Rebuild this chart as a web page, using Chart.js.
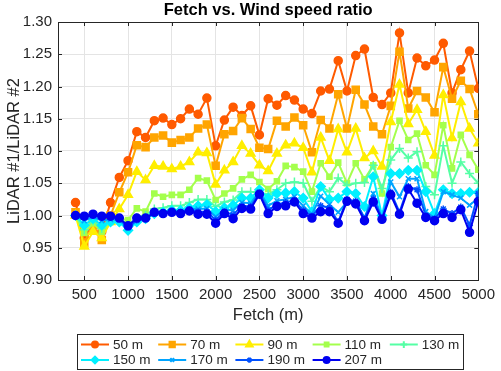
<!DOCTYPE html>
<html>
<head>
<meta charset="utf-8">
<script src="https://cdn.jsdelivr.net/npm/chart.js@4.4.1/dist/chart.umd.min.js"></script>
<style>
  html, body { margin: 0; padding: 0; background: #fff; }
</style>
</head>
<body>
<canvas id="fetchChart" width="501" height="371"></canvas>
<script>
// fetch distance of each measurement (m)
const fetchDist = [400, 500, 600, 700, 800, 900, 1000, 1100, 1200, 1300, 1400, 1500,
  1600, 1700, 1800, 1900, 2000, 2100, 2200, 2300, 2400, 2500, 2600, 2700, 2800, 2900,
  3000, 3100, 3200, 3300, 3400, 3500, 3600, 3700, 3800, 3900, 4000, 4100, 4200, 4300,
  4400, 4500, 4600, 4700, 4800, 4900, 5000];

const heights = ['50 m', '70 m', '90 m', '110 m', '130 m', '150 m', '170 m', '190 m', '207 m'];

// LiDAR #1 / LiDAR #2 wind speed ratio at each height
const ratio50 = [1.020, 0.965, 0.990, 0.975, 1.020, 1.059, 1.085, 1.130, 1.121, 1.147, 1.151, 1.141,
  1.150, 1.165, 1.157, 1.182, 1.108, 1.148, 1.168, 1.155, 1.170, 1.125, 1.181, 1.171, 1.186, 1.179,
  1.165, 1.158, 1.193, 1.196, 1.240, 1.193, 1.248, 1.258, 1.183, 1.172, 1.190, 1.283, 1.190, 1.244,
  1.232, 1.241, 1.267, 1.190, 1.226, 1.255, 1.197];
const ratio70 = [1.005, 0.958, 0.985, 0.962, 1.000, 1.036, 1.067, 1.109, 1.106, 1.121, 1.124, 1.113,
  1.117, 1.121, 1.135, 1.141, 1.077, 1.126, 1.131, 1.151, 1.134, 1.105, 1.103, 1.147, 1.138, 1.152,
  1.140, 1.098, 1.148, 1.135, 1.188, 1.135, 1.195, 1.172, 1.138, 1.126, 1.170, 1.254, 1.166, 1.193,
  1.183, 1.160, 1.230, 1.181, 1.209, 1.196, 1.157];
const ratio90 = [1.000, 0.952, 0.975, 0.965, 0.990, 1.010, 1.032, 1.068, 1.055, 1.077, 1.076, 1.072,
  1.076, 1.083, 1.098, 1.097, 1.048, 1.070, 1.083, 1.108, 1.096, 1.078, 1.069, 1.096, 1.109, 1.112,
  1.105, 1.067, 1.121, 1.085, 1.134, 1.098, 1.135, 1.089, 1.100, 1.076, 1.145, 1.203, 1.142, 1.164,
  1.130, 1.093, 1.187, 1.120, 1.176, 1.135, 1.112];
const ratio110 = [1.000, 0.973, 0.988, 0.975, 0.990, 0.995, 0.993, 1.011, 1.006, 1.034, 1.029, 1.032,
  1.032, 1.040, 1.058, 1.054, 1.024, 1.034, 1.042, 1.056, 1.063, 1.052, 1.041, 1.053, 1.077, 1.075,
  1.068, 1.037, 1.081, 1.060, 1.082, 1.050, 1.081, 1.056, 1.078, 1.034, 1.106, 1.147, 1.117, 1.127,
  1.078, 1.063, 1.140, 1.073, 1.125, 1.094, 1.071];
const ratio130 = [1.000, 0.978, 0.992, 0.980, 0.992, 0.992, 0.985, 0.997, 1.000, 1.010, 1.012, 1.015,
  1.015, 1.020, 1.025, 1.025, 1.014, 1.021, 1.024, 1.037, 1.037, 1.035, 1.033, 1.040, 1.050, 1.052,
  1.050, 1.022, 1.045, 1.037, 1.058, 1.047, 1.050, 1.051, 1.078, 1.042, 1.086, 1.104, 1.089, 1.099,
  1.045, 1.032, 1.108, 1.050, 1.083, 1.065, 1.050];
const ratio150 = [1.000, 0.985, 0.995, 0.985, 0.990, 0.990, 0.977, 0.990, 0.995, 1.003, 1.005, 1.008,
  1.008, 1.012, 1.015, 1.017, 1.006, 1.012, 1.016, 1.027, 1.027, 1.040, 1.027, 1.034, 1.035, 1.037,
  1.027, 1.006, 1.045, 1.025, 1.027, 1.037, 1.034, 1.014, 1.060, 1.000, 1.065, 1.065, 1.070, 1.070,
  1.037, 1.003, 1.040, 1.034, 1.034, 1.036, 1.036];
const ratio170 = [1.000, 0.992, 0.998, 0.992, 0.994, 0.993, 0.980, 0.992, 0.995, 1.003, 1.004, 1.007,
  1.006, 1.010, 1.010, 1.011, 0.998, 1.009, 1.008, 1.020, 1.019, 1.037, 1.015, 1.023, 1.025, 1.029,
  1.015, 1.002, 1.030, 1.017, 1.005, 1.021, 1.022, 0.996, 1.034, 0.996, 1.052, 1.029, 1.057, 1.057,
  1.006, 0.996, 1.037, 1.032, 1.027, 1.016, 1.027];
const ratio190 = [1.000, 0.998, 1.000, 0.998, 0.997, 0.995, 0.982, 0.993, 0.995, 1.004, 1.004, 1.006,
  1.005, 1.009, 1.006, 1.006, 0.993, 1.006, 1.001, 1.015, 1.014, 1.035, 1.008, 1.017, 1.020, 1.024,
  1.008, 0.999, 1.015, 1.012, 0.990, 1.025, 1.022, 0.995, 1.026, 0.995, 1.036, 1.005, 1.045, 1.040,
  1.000, 0.995, 1.010, 1.003, 1.013, 0.985, 1.034];
const ratio207 = [1.000, 0.999, 1.002, 0.999, 0.999, 0.996, 0.984, 0.996, 0.996, 1.005, 1.003, 1.005,
  1.003, 1.007, 1.002, 1.002, 0.988, 1.003, 0.995, 1.011, 1.010, 1.033, 1.003, 1.014, 1.015, 1.021,
  1.003, 0.996, 1.006, 1.006, 0.988, 1.022, 1.018, 0.992, 1.021, 0.994, 1.032, 1.002, 1.041, 1.019,
  0.997, 0.992, 1.003, 0.997, 1.009, 0.974, 1.022];

const xTicks = [500, 1000, 1500, 2000, 2500, 3000, 3500, 4000, 4500, 5000];
const yTicks = [0.90, 0.95, 1.00, 1.05, 1.10, 1.15, 1.20, 1.25, 1.30];

const series = [ratio50, ratio70, ratio90, ratio110, ratio130, ratio150, ratio170, ratio190, ratio207];
const colors = ['#ff5a00', '#ffa500', '#ffee00', '#a4ff4c', '#55ffa5', '#00f0ff', '#00a4ff', '#0050ff', '#0000f0'];
const markers = ['circle', 'rect', 'triangle', 'rect', 'cross', 'rectRot', 'crossRot', 'star', 'circle'];
const markerSize = [4, 5, 5, 3.6, 4.5, 4.5, 3.5, 3.5, 4];

const FONT = '"Liberation Sans", Arial, Helvetica, sans-serif';
const INK = '#262626';

// title, axis titles, box and legend drawn like the MATLAB figure
const frame = {
  id: 'frame',
  beforeDatasetsDraw(chart) {
    const ctx = chart.ctx;
    const a = chart.chartArea;
    const xs = chart.scales.x, ys = chart.scales.y;
    ctx.save();
    ctx.strokeStyle = INK;
    ctx.lineWidth = 1;
    ctx.beginPath();
    xTicks.forEach(v => {
      const px = Math.round(xs.getPixelForValue(v)) + 0.5;
      ctx.moveTo(px, a.bottom); ctx.lineTo(px, a.bottom - 4);
      ctx.moveTo(px, a.top); ctx.lineTo(px, a.top + 4);
    });
    yTicks.forEach(v => {
      const py = Math.round(ys.getPixelForValue(v)) + 0.5;
      ctx.moveTo(a.left, py); ctx.lineTo(a.left + 4, py);
      ctx.moveTo(a.right, py); ctx.lineTo(a.right - 4, py);
    });
    ctx.stroke();
    ctx.strokeRect(Math.round(a.left) + 0.5, Math.round(a.top) + 0.5,
      Math.round(a.right - a.left), Math.round(a.bottom - a.top));
    ctx.restore();
  },
  afterDraw(chart) {
    const ctx = chart.ctx;
    const a = chart.chartArea;
    const cx = (a.left + a.right) / 2;
    ctx.save();
    ctx.fillStyle = '#000';
    ctx.textAlign = 'center';
    ctx.textBaseline = 'alphabetic';
    ctx.font = 'bold 16.5px ' + FONT;
    ctx.fillText('Fetch vs. Wind speed ratio', cx, 15);

    ctx.fillStyle = INK;
    ctx.font = '16.5px ' + FONT;
    ctx.textBaseline = 'middle';
    ctx.fillText('Fetch (m)', cx, 315);
    ctx.save();
    ctx.translate(14, (a.top + a.bottom) / 2);
    ctx.rotate(-Math.PI / 2);
    ctx.fillText('LiDAR #1/LiDAR #2', 0, 0);
    ctx.restore();

    // legend box
    ctx.fillStyle = '#fff';
    ctx.fillRect(77, 334, 386, 36);
    ctx.strokeStyle = INK;
    ctx.lineWidth = 1;
    ctx.strokeRect(77.5, 334.5, 386, 35);
    ctx.font = '13.5px ' + FONT;
    ctx.textAlign = 'left';
    heights.forEach((name, i) => {
      const x0 = 81 + (i % 5) * 77.2;
      const y = 344.5 + Math.floor(i / 5) * 15.5;
      ctx.strokeStyle = colors[i];
      ctx.fillStyle = colors[i];
      ctx.lineWidth = 2;
      ctx.beginPath();
      ctx.moveTo(x0, y); ctx.lineTo(x0 + 28, y);
      ctx.stroke();
      Chart.helpers.drawPoint(ctx, {
        pointStyle: markers[i], radius: markerSize[i] * 0.75, borderWidth: 1.2, rotation: 0
      }, x0 + 14, y);
      ctx.fillStyle = INK;
      ctx.fillText(name, x0 + 32, y + 0.5);
    });
    ctx.restore();
  }
};

const datasets = series.map((vals, i) => ({
  label: heights[i],
  data: fetchDist.map((f, k) => ({ x: f, y: vals[k] })),
  borderColor: colors[i],
  backgroundColor: colors[i],
  borderWidth: 2,
  pointStyle: markers[i],
  pointRadius: markerSize[i],
  pointBorderWidth: 1.5,
  tension: 0,
  order: series.length - i
}));

new Chart(document.getElementById('fetchChart'), {
  type: 'line',
  data: { datasets: datasets },
  options: {
    responsive: false,
    animation: false,
    devicePixelRatio: 1,
    layout: { padding: { top: 22, right: 19, bottom: 0, left: 0 } },
    plugins: {
      legend: { display: false },
      tooltip: { enabled: false }
    },
    scales: {
      x: {
        type: 'linear',
        min: 200,
        max: 5000,
        afterBuildTicks: s => { s.ticks = xTicks.map(v => ({ value: v })); },
        afterFit: s => { s.height = 91; },
        border: { display: false },
        grid: { color: '#e4e4e4', drawTicks: false },
        ticks: {
          padding: 6, maxRotation: 0, autoSkip: false, color: INK,
          font: { family: FONT, size: 15 },
          callback: v => String(v)
        }
      },
      y: {
        min: 0.9,
        max: 1.3,
        afterBuildTicks: s => { s.ticks = yTicks.map(v => ({ value: v })); },
        afterFit: s => { s.width = 58; },
        border: { display: false },
        grid: { color: '#e4e4e4', drawTicks: false },
        ticks: {
          padding: 6, color: INK,
          font: { family: FONT, size: 15 },
          callback: v => v.toFixed(2)
        }
      }
    }
  },
  plugins: [frame]
});
</script>
</body>
</html>
